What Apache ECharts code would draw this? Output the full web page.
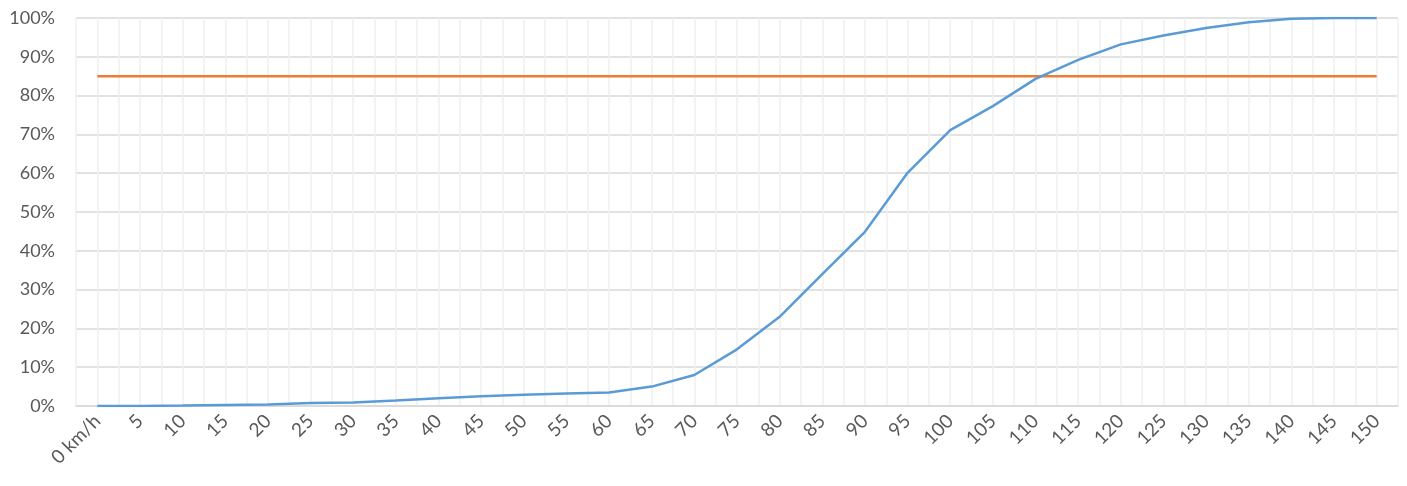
<!DOCTYPE html>
<html>
<head>
<meta charset="utf-8">
<title>Speed distribution</title>
<script src="https://cdn.jsdelivr.net/npm/echarts@6/dist/echarts.min.js"></script>
<style>
  html, body { margin: 0; padding: 0; background: #ffffff; }
  #chart { width: 1407px; height: 486px; }
</style>
</head>
<body>
<div id="chart"></div>
<script>
// Speed classes (km/h)
const categories = ['0 km/h', '5', '10', '15', '20', '25', '30', '35', '40', '45', '50', '55', '60', '65', '70', '75', '80', '85', '90', '95', '100', '105', '110', '115', '120', '125', '130', '135', '140', '145', '150'];

// Cumulative share of vehicles at or below each speed (%)
const cumulativeShare = [0, 0, 0.1, 0.25, 0.4, 0.8, 0.9, 1.4, 2.0, 2.5, 2.9, 3.2, 3.5, 5.0, 8.0, 14.6, 23.0, 34.0, 44.9, 60.1, 71.1, 77.3, 84.3, 89.2, 93.2, 95.5, 97.4, 98.9, 99.8, 100, 100];

// 85th percentile reference level (%)
const percentile85 = categories.map(() => 85);

const yTicks = { min: 0, max: 100, step: 10 };

const labelColor = '#595959';
const fontFamily = 'Lato, "Open Sans", sans-serif';

const chart = echarts.init(document.getElementById('chart'), null, { renderer: 'canvas' });

chart.setOption({
  animation: false,
  backgroundColor: '#ffffff',
  grid: { left: 76, right: 9, top: 18, bottom: 80, containLabel: false },
  xAxis: [
    {
      type: 'category',
      data: categories,
      boundaryGap: true,
      axisLine: { show: true, lineStyle: { color: '#d9d9d9', width: 1.5 } },
      axisTick: { show: false },
      splitLine: { show: false },
      axisLabel: {
        interval: 0,
        rotate: 45,
        margin: 12,
        color: labelColor,
        fontFamily: fontFamily,
        fontSize: 19
      }
    },
    {
      // half-step grid: lines at class centres and class boundaries
      type: 'value',
      min: -0.5,
      max: 30.5,
      interval: 0.5,
      position: 'bottom',
      show: true,
      axisLine: { show: false },
      axisTick: { show: false },
      axisLabel: { show: false },
      splitLine: { show: true, lineStyle: { color: '#efefef', width: 1.5 } }
    }
  ],
  yAxis: {
    type: 'value',
    min: yTicks.min,
    max: yTicks.max,
    interval: yTicks.step,
    axisLine: { show: false },
    axisTick: { show: false },
    axisLabel: {
      formatter: '{value}%',
      margin: 21,
      color: labelColor,
      fontFamily: fontFamily,
      fontSize: 18
    },
    splitLine: { show: true, lineStyle: { color: '#d9d9d9', width: 1.5 } }
  },
  series: [
    {
      name: 'Cumulative share',
      type: 'line',
      xAxisIndex: 0,
      data: cumulativeShare,
      symbol: 'none',
      smooth: false,
      lineStyle: { color: '#5b9bd5', width: 2.5 },
      z: 3
    },
    {
      name: 'V85',
      type: 'line',
      xAxisIndex: 0,
      data: percentile85,
      symbol: 'none',
      lineStyle: { color: '#ed7d31', width: 2.5 },
      z: 2
    }
  ]
});
</script>
</body>
</html>
